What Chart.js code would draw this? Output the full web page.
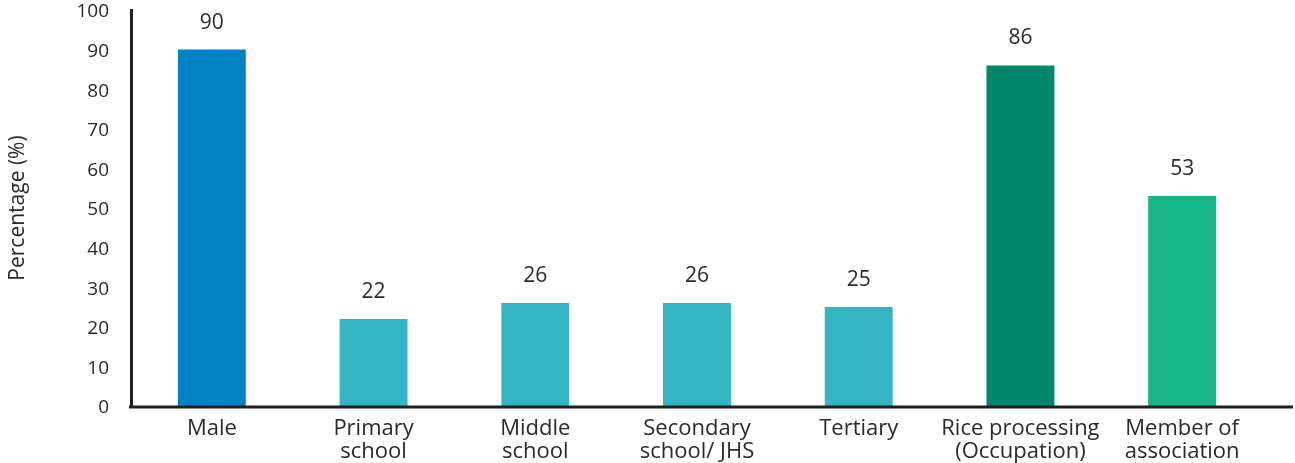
<!DOCTYPE html>
<html>
<head>
<meta charset="utf-8">
<title>Respondent characteristics</title>
<script src="https://cdn.jsdelivr.net/npm/chart.js@4/dist/chart.umd.min.js"></script>
<style>
  html, body { margin: 0; padding: 0; background: #ffffff; }
  #wrap { width: 1295px; height: 463px; position: relative; }
</style>
</head>
<body>
<div id="wrap"><canvas id="myChart"></canvas></div>
<script>
// Categories (multi-line labels) and their percentages
var categories = [
    ['Male'],
    ['Primary', 'school'],
    ['Middle', 'school'],
    ['Secondary', 'school/ JHS'],
    ['Tertiary'],
    ['Rice processing', '(Occupation)'],
    ['Member of', 'association']
];
var percentages = [90, 22, 26, 26, 25, 86, 53];
var barColors = ['#0081c3', '#35b5c4', '#35b5c4', '#35b5c4', '#35b5c4', '#03876a', '#17b686'];
var yTicks = [0, 10, 20, 30, 40, 50, 60, 70, 80, 90, 100];

var textColor = '#2a2a2a';
var axisColor = '#231f20';
var fontFamily = '"Open Sans", "Noto Sans", sans-serif';

// Draws the baseline (running on past the last category) and the value above each bar
var valueLabels = {
    id: 'valueLabels',
    afterDatasetsDraw: function (chart) {
        var ctx = chart.ctx;
        var area = chart.chartArea;
        var meta = chart.getDatasetMeta(0);
        ctx.save();
        ctx.strokeStyle = axisColor;
        ctx.lineWidth = 3;
        ctx.beginPath();
        ctx.moveTo(area.left - 2, area.bottom + 1);
        ctx.lineTo(chart.width - 2, area.bottom + 1);
        ctx.stroke();

        ctx.font = '21px ' + fontFamily;
        ctx.fillStyle = textColor;
        ctx.textAlign = 'center';
        ctx.textBaseline = 'middle';
        meta.data.forEach(function (bar, i) {
            ctx.fillText(String(percentages[i]), bar.x, bar.y - 27);
        });
        ctx.restore();
    }
};

var ctx = document.getElementById('myChart').getContext('2d');
var chart = new Chart(ctx, {
    type: 'bar',
    data: {
        labels: categories,
        datasets: [{
            data: percentages,
            backgroundColor: barColors,
            borderWidth: 0,
            barPercentage: 0.42,
            categoryPercentage: 1.0
        }]
    },
    options: {
        responsive: true,
        maintainAspectRatio: false,
        animation: false,
        layout: { padding: { top: 10, right: 32, bottom: 0, left: 0 } },
        plugins: {
            legend: { display: false },
            tooltip: { enabled: false }
        },
        scales: {
            x: {
                grid: { display: false },
                border: { display: false },
                ticks: {
                    color: textColor,
                    padding: 3,
                    maxRotation: 0,
                    autoSkip: false,
                    font: { family: fontFamily, size: 22, lineHeight: 1.05 }
                },
                afterFit: function (scale) {
                    scale.height = 57;
                    scale.paddingLeft = 0;
                    scale.paddingRight = 0;
                }
            },
            y: {
                min: 0,
                max: 100,
                grid: { display: false },
                border: { display: true, color: axisColor, width: 3 },
                afterBuildTicks: function (scale) {
                    scale.ticks = yTicks.map(function (v) { return { value: v }; });
                },
                ticks: {
                    color: textColor,
                    padding: 14,
                    labelOffset: 2,
                    font: { family: fontFamily, size: 19 }
                },
                title: {
                    display: true,
                    text: 'Percentage (%)',
                    color: textColor,
                    padding: { top: 5, bottom: 0 },
                    font: { family: fontFamily, size: 21 }
                },
                afterFit: function (scale) {
                    scale.width = 131;
                    scale.paddingTop = 0;
                    scale.paddingBottom = 0;
                }
            }
        }
    },
    plugins: [valueLabels]
});
</script>
</body>
</html>
